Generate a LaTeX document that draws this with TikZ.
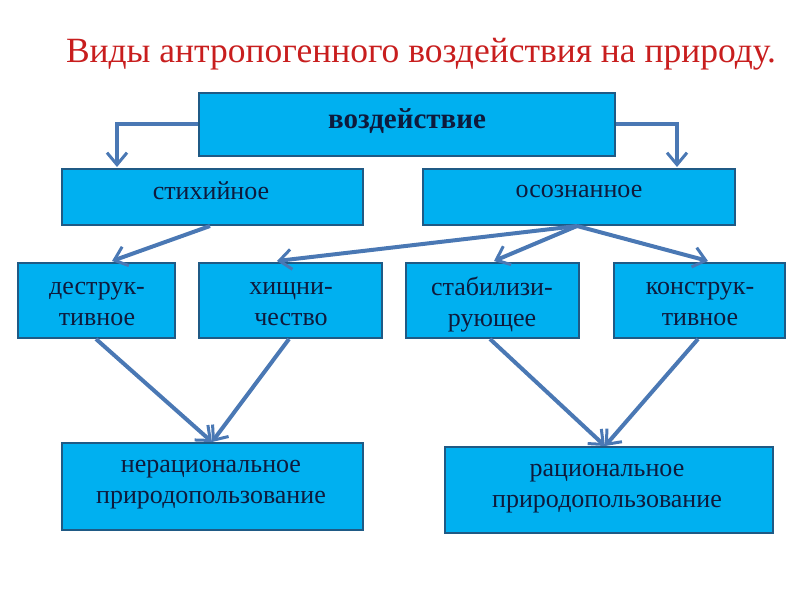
\documentclass[tikz,border=0pt]{standalone}
\usepackage{fontspec}
\setmainfont{Liberation Serif}
\usetikzlibrary{arrows.meta}
\definecolor{boxfill}{HTML}{00B0F0}
\definecolor{boxline}{HTML}{1F5A85}
\definecolor{arrowc}{HTML}{4A78B4}
\definecolor{txtc}{HTML}{0E1A3C}
\definecolor{titlec}{HTML}{C81E1E}
\tikzset{
  box/.style={draw=boxline, line width=2pt, fill=boxfill, inner sep=0pt},
  txt/.style={text=txtc, font=\fontsize{26}{31}\selectfont, align=center, inner sep=0pt},
  conn/.style={draw=arrowc, line width=4pt, -{Straight Barb[length=12pt,width=20pt,line width=3pt]}},
}
\begin{document}
\begin{tikzpicture}[x=1pt,y=-1pt]
\useasboundingbox (0,0) rectangle (800,600);
\node[text=titlec, font=\fontsize{35.5}{40}\selectfont, inner sep=0pt] (title) at (421,54) {Виды антропогенного воздействия на природу.};
% boxes
\node[box, minimum width=416pt, minimum height=63pt] (v) at (407,124.5) {};
\node[txt, font=\bfseries\fontsize{29}{34}\selectfont] (vt) at (407,121) {воздействие};
\node[box, minimum width=301pt, minimum height=56pt] (s) at (212.5,197) {};
\node[txt] (st) at (211,191) {стихийное};
\node[box, minimum width=312pt, minimum height=56pt] (o) at (579,197) {};
\node[txt] (ot) at (579,191) {осознанное};
\node[box, minimum width=157pt, minimum height=75pt] (d) at (96.5,300.5) {};
\node[txt] (dt) at (97,304) {деструк-\\тивное};
\node[box, minimum width=183pt, minimum height=75pt] (h) at (290.5,300.5) {};
\node[txt] (ht) at (291,304) {хищни-\\чество};
\node[box, minimum width=173pt, minimum height=75pt] (b) at (492.5,300.5) {};
\node[txt] (bt) at (492,304) {стабилизи-\\рующее};
\node[box, minimum width=171pt, minimum height=75pt] (k) at (699.5,300.5) {};
\node[txt] (kt) at (700,304) {конструк-\\тивное};
\node[box, minimum width=301pt, minimum height=87pt] (n) at (212.5,486.5) {};
\node[txt] (nt) at (211,485) {нерациональное\\природопользование};
\node[box, minimum width=328pt, minimum height=86pt] (r) at (609,490) {};
\node[txt] (rt) at (607,488.5) {рациональное\\природопользование};
% coordinates
\coordinate (vl) at (v.west |- 0,124);
\coordinate (vr) at (v.east |- 0,124);
\coordinate (sb) at (210,226);
\coordinate (ob) at (577,226);
\coordinate (db) at (96,339);
\coordinate (hb) at (289,339);
\coordinate (bb) at (490,339);
\coordinate (kb) at (698,339);
% connectors
\draw[conn] (vl) -| (117,167);
\draw[conn] (vr) -| (677,167);
\draw[conn] (sb) -- (112,261);
\draw[conn] (ob) -- (277,261);
\draw[conn] (ob) -- (494,261);
\draw[conn] (ob) -- (708,261);
\draw[conn] (db) -- (212,442);
\draw[conn] (hb) -- (212,442);
\draw[conn] (bb) -- (605,446);
\draw[conn] (kb) -- (605,446);
\end{tikzpicture}
\end{document}
